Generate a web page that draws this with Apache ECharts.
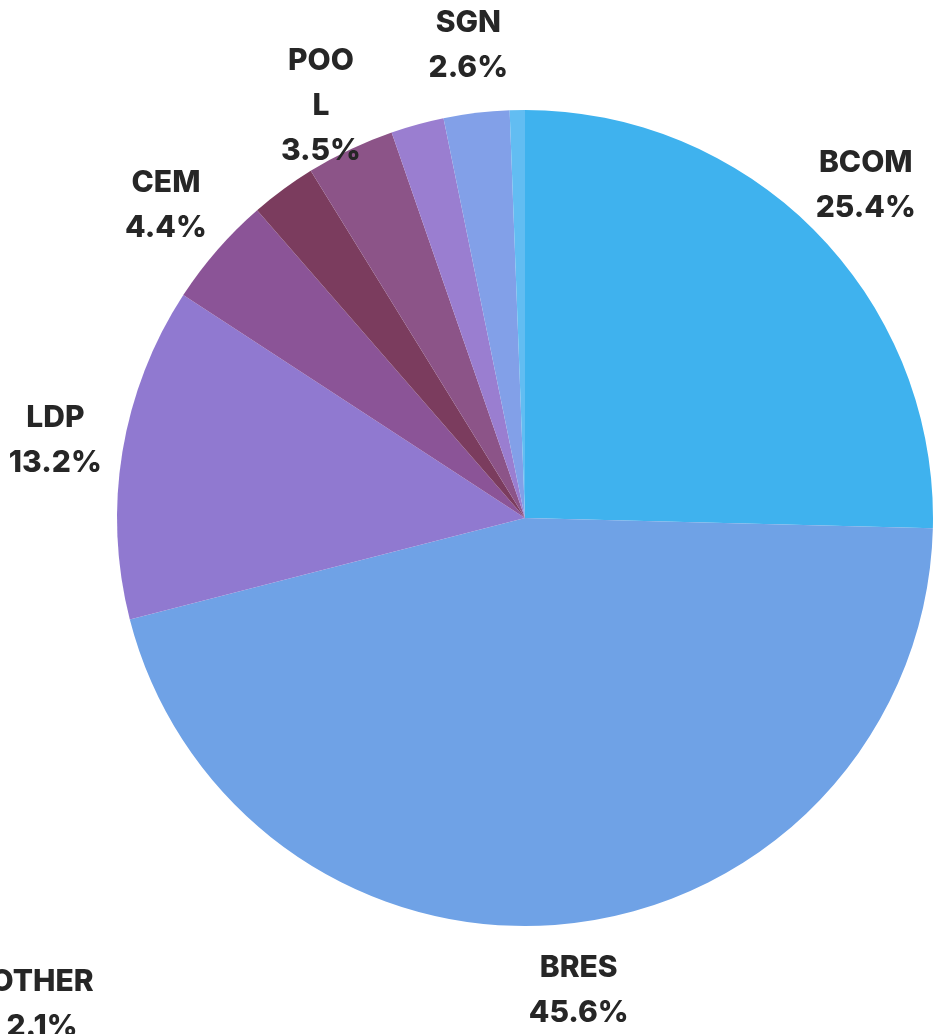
<!DOCTYPE html>
<html>
<head>
<meta charset="utf-8">
<script src="https://cdn.jsdelivr.net/npm/echarts@6/dist/echarts.min.js"></script>
<style>
  html, body { margin: 0; padding: 0; background: #fff; }
  #main { width: 940px; height: 1034px; }
</style>
</head>
<body>
<div id="main"></div>
<script>
// shares in percent, clockwise from 12 o'clock
var names = ['BCOM', 'BRES', 'LDP', 'CEM', 'RES', 'POOL', 'OTHER', 'SGN', 'MISC'];
var labelNames = ['BCOM', 'BRES', 'LDP', 'CEM', '', 'POO\nL', 'OTHER', 'SGN', ''];
var shares = [25.4, 45.6, 13.2, 4.4, 2.6, 3.5, 2.1, 2.6, 0.6];
var showLabel = [true, true, true, true, false, true, true, true, false];
var colors = ['#3fb2ee', '#6fa2e6', '#9079d0', '#8b5497', '#7b3c5e', '#8c5488', '#9a7ed0', '#82a0e8', '#62bdf2'];

var cx = 525, cy = 518, radius = 408, labelR = 476;

// mid angle of each slice (degrees clockwise from top)
var total = shares.reduce(function (a, b) { return a + b; }, 0);
var midAngles = [];
var acc = 0;
for (var i = 0; i < shares.length; i++) {
    midAngles.push((acc + shares[i] / 2) / total * 360);
    acc += shares[i];
}

var data = names.map(function (n, i) {
    return {
        name: n,
        value: shares[i],
        itemStyle: { color: colors[i] },
        label: { show: showLabel[i] }
    };
});

var chart = echarts.init(document.getElementById('main'));
var option = {
    animation: false,
    series: [
        {
            type: 'pie',
            center: [cx, cy],
            radius: radius,
            startAngle: 90,
            clockwise: true,
            avoidLabelOverlap: false,
            itemStyle: { borderWidth: 0 },
            emphasis: { disabled: true },
            label: {
                position: 'outside',
                formatter: function (p) {
                    return labelNames[p.dataIndex] + '\n' + p.value.toFixed(1) + '%';
                },
                fontFamily: 'Inter',
                fontWeight: 800,
                fontSize: 30,
                lineHeight: 45,
                color: '#262626'
            },
            labelLine: { show: false },
            labelLayout: function (params) {
                var idx = params.dataIndex;
                if (names[idx] === 'OTHER') {
                    // label was dragged away from its slice in the original
                    return { x: 42, y: 1004, align: 'center', verticalAlign: 'middle' };
                }
                var a = midAngles[idx] * Math.PI / 180;
                var dy = names[idx] === 'POOL' ? 18 : 0;
                return {
                    x: cx + labelR * Math.sin(a),
                    y: cy - labelR * Math.cos(a) + dy,
                    align: 'center',
                    verticalAlign: 'middle'
                };
            },
            data: data
        }
    ]
};
chart.setOption(option);
</script>
</body>
</html>
